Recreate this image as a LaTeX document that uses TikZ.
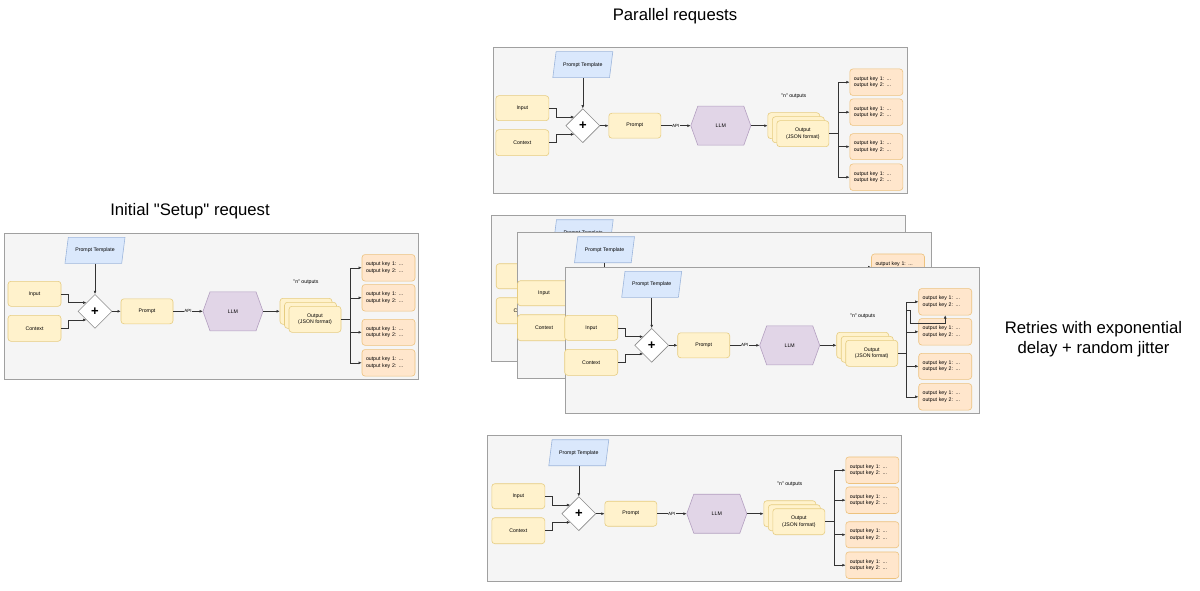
\documentclass[tikz,border=0pt]{standalone}
\usepackage{fontspec}
\setmainfont{Liberation Sans}[Ligatures=TeXOff]
\usetikzlibrary{shapes.geometric,arrows.meta,calc}
\definecolor{panelfill}{HTML}{F5F5F5}
\definecolor{panelline}{HTML}{A0A0A0}
\definecolor{yfill}{HTML}{FFF2CC}
\definecolor{yline}{HTML}{E6CC80}
\definecolor{ofill}{HTML}{FFE6CC}
\definecolor{oline}{HTML}{EDC27E}
\definecolor{bfill}{HTML}{DAE8FC}
\definecolor{bline}{HTML}{9DB6DC}
\definecolor{pfill}{HTML}{E1D5E7}
\definecolor{pline}{HTML}{B39FC0}
\definecolor{dline}{HTML}{8A8A8A}
\definecolor{arrline}{HTML}{333333}
\newcommand\sfs{\fontsize{5.2}{6.5}\selectfont}
\newcommand\titlefs{\fontsize{16.7}{20}\selectfont}
\tikzset{
  frame/.style={fill=panelfill, draw=panelline, line width=0.7pt},
  ybox/.style={rectangle, rounded corners=3pt, fill=yfill, draw=yline, line width=0.6pt,
    minimum width=53pt, minimum height=25.5pt, inner sep=0pt, font=\sfs, align=center},
  kbox/.style={rectangle, rounded corners=3pt, fill=ofill, draw=oline, line width=0.6pt,
    minimum width=53pt, minimum height=26.5pt, inner xsep=4pt, inner ysep=0pt,
    text width=45pt, font=\sfs, align=left},
  lbl/.style={inner sep=0pt, font=\sfs, align=center},
  arr/.style={draw=arrline, line width=0.5pt, -{Latex[length=3.2pt,width=2.8pt]}},
  ln/.style={draw=arrline, line width=0.5pt},
  titletext/.style={font=\titlefs, align=center, inner sep=0pt},
  pics/panel/.style={code={
    \path[frame] (#1,0) rectangle ++(414,146);
    \path[fill=bfill, draw=bline, line width=0.6pt] (61,30) -- (64.3,4) -- (121,4) -- (117.7,30) -- cycle;
    \node[lbl, minimum width=50pt, minimum height=26pt] (-tmpl) at (91,17) {Prompt Template};
    \node[ybox, minimum height=25pt] (-input) at (30.5,60.5) {Input};
    \node[ybox, minimum height=26pt] (-context) at (30.5,95) {Context};
    \node[diamond, draw=dline, fill=white, line width=0.6pt, minimum width=34pt,
      minimum height=34pt, inner sep=0pt, font=\fontsize{13}{13}\selectfont\bfseries] (-dia) at (91,78) {+};
    \node[ybox, minimum width=52pt, minimum height=25pt] (-prompt) at (143,78) {Prompt};
    \path[fill=pfill, draw=pline, line width=0.6pt] (199,78) -- (206,58.5) -- (252,58.5) -- (259,78) -- (252,97.5) -- (206,97.5) -- cycle;
    \node[lbl, minimum width=60pt, minimum height=39pt] (-llm) at (229,78) {LLM};
    \node[ybox, minimum width=52pt, minimum height=26pt] (-o3) at (302,78) {};
    \node[ybox, minimum width=52pt, minimum height=26pt] (-o2) at (306.5,82) {};
    \node[ybox, minimum width=52pt, minimum height=26pt] (-o1) at (311,86) {Output\\(JSON format)};
    \node[lbl] (-n) at (302,49) {"n" outputs};
    \node[kbox] (-k1) at (384.5,34.5) {output key 1: ...\\output key 2: ...};
    \node[kbox] (-k2) at (384.5,64.5) {output key 1: ...\\output key 2: ...};
    \node[kbox, minimum height=26pt] (-k3) at (384.5,99) {output key 1: ...\\output key 2: ...};
    \node[kbox] (-k4) at (384.5,129.5) {output key 1: ...\\output key 2: ...};
    \coordinate (-br) at (346,86);
    \draw[ln] (-o1.east) -- (-br);
    \draw[arr] (-br) |- (-k1.west);
    \draw[arr] (-br) |- (-k2.west);
    \draw[arr] (-br) |- (-k3.west);
    \draw[arr] (-br) |- (-k4.west);
    \draw[arr] (-input.east) -- ++(7,0) |- (-dia.north west);
    \draw[arr] (-context.east) -- ++(7,0) |- (-dia.south west);
    \draw[arr] (-tmpl.south) -- (-dia.north);
    \draw[arr] (-dia.east) -- (-prompt.west);
    \draw[arr] (-prompt.east) -- node[midway, fill=panelfill, inner sep=0.4pt, font=\fontsize{4.5}{5}\selectfont] (-api) {API} (-llm.west);
    \draw[arr] (-llm.east) -- (-o3.west);
  }}
}
\begin{document}
\begin{tikzpicture}[x=1pt, y=-1pt]
\fill[white] (0,0) rectangle (1200,591);
\useasboundingbox (0,0) rectangle (1200,591);
% titles
\node[titletext] (t1) at (675,16) {Parallel requests};
\node[titletext] (t2) at (190,211) {Initial "Setup" request};
\node[titletext] (t3) at (1093.5,339.5) {Retries with exponential\\delay + random jitter};
% panels
\pic (p1) at (4,233.3) {panel=0};
\pic (pt) at (491.8,47.7) {panel=1.5};
\pic (pb) at (492.2,215.7) {panel=-0.5};
\pic (pm) at (513.5,232.7) {panel=3.8};
\pic (pf) at (560.7,267.3) {panel=5};
\draw[arr] ($(pf-br)+(0,-43.3)$) -- ++(3.7,0) -- ++(0,13.3) -| (pf-k1.south);
\pic (pl) at (487.8,435.7) {panel=-0.5};
\end{tikzpicture}
\end{document}
